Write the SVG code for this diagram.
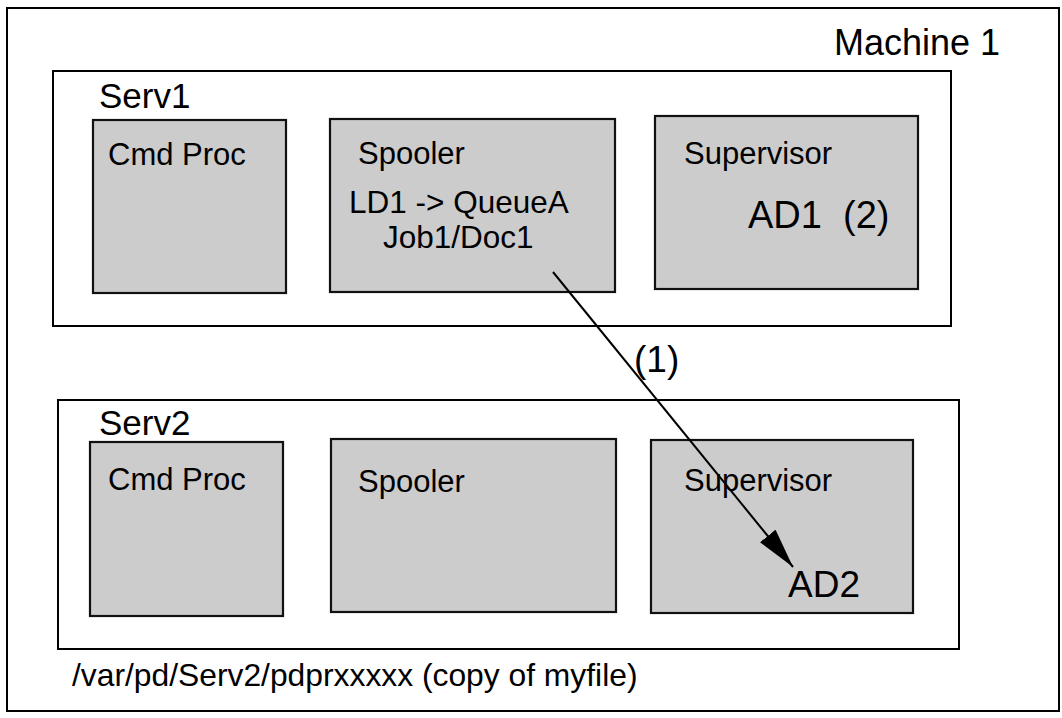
<svg xmlns="http://www.w3.org/2000/svg" width="1062" height="718" viewBox="0 0 1062 718">
<style>
text{font-family:"Liberation Sans",Arial,sans-serif;fill:#000}
.frame{fill:#fff;stroke:#000;stroke-width:2}
.proc{fill:#cccccc;stroke:#111;stroke-width:2.2}
.t31{font-size:31px}
.t35{font-size:35px}
.t37{font-size:37px}
</style>
<defs>
<marker id="ah" viewBox="0 0 40 20" refX="40" refY="10" markerWidth="40" markerHeight="21" markerUnits="userSpaceOnUse" orient="auto">
<path d="M0,0 L40,10 L0,20 Z" fill="#000"/>
</marker>
</defs>
<rect width="1062" height="718" fill="#fff"/>
<g id="machine1">
<rect class="frame" x="7" y="8" width="1052" height="703"/>
<text class="t35" x="834" y="55" style="font-size:36px">Machine 1</text>
</g>
<g id="serv1">
<rect class="frame" x="53" y="71" width="898" height="255"/>
<text class="t35" x="99" y="108">Serv1</text>
</g>
<g id="serv1-cmdproc">
<rect class="proc" x="93" y="120" width="193" height="173"/>
<text class="t31" x="108" y="165">Cmd Proc</text>
</g>
<g id="serv1-spooler">
<rect class="proc" x="330" y="119" width="285" height="173"/>
<text class="t31" x="358" y="164">Spooler</text>
<text class="t31" x="349" y="213" style="font-size:31.5px">LD1 -&gt; QueueA</text>
<text class="t31" x="383" y="248" style="font-size:31.5px">Job1/Doc1</text>
</g>
<g id="serv1-supervisor">
<rect class="proc" x="655" y="116" width="263" height="173"/>
<text class="t31" x="684" y="164">Supervisor</text>
<text class="t37" x="748" y="228" style="font-size:38px" xml:space="preserve">AD1  (2)</text>
</g>
<g id="serv2">
<rect class="frame" x="58" y="400" width="901" height="249"/>
<text class="t35" x="99" y="435">Serv2</text>
</g>
<g id="serv2-cmdproc">
<rect class="proc" x="90" y="442" width="193" height="174"/>
<text class="t31" x="108" y="490">Cmd Proc</text>
</g>
<g id="serv2-spooler">
<rect class="proc" x="331" y="439" width="285" height="173"/>
<text class="t31" x="358" y="492">Spooler</text>
</g>
<g id="serv2-supervisor">
<rect class="proc" x="651" y="440" width="262" height="173"/>
<text class="t31" x="684" y="491">Supervisor</text>
<text class="t37" x="788" y="597">AD2</text>
</g>
<text id="path-note" class="t31" x="72" y="686" style="font-size:31.8px">/var/pd/Serv2/pdprxxxxx (copy of myfile)</text>
<g id="connectors">
<line x1="553" y1="272" x2="793" y2="567" stroke="#000" stroke-width="2" marker-end="url(#ah)"/>
<text class="t37" x="634" y="372">(1)</text>
</g>
</svg>
